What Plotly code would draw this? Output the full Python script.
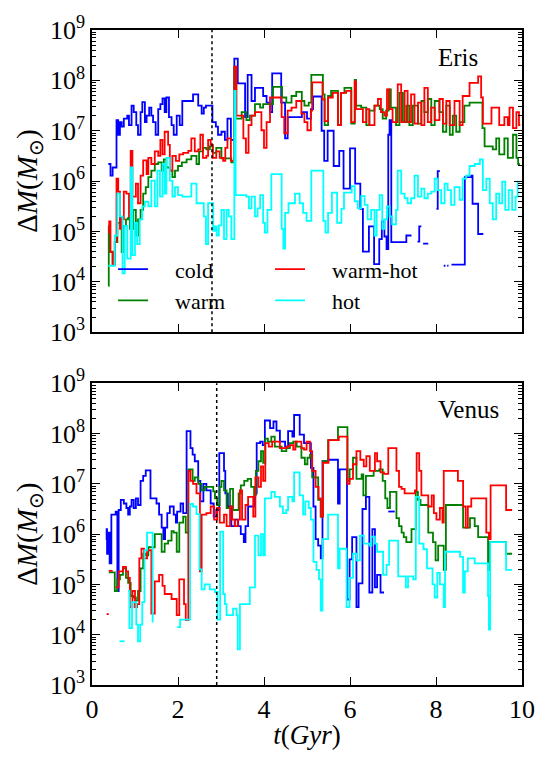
import plotly.graph_objects as go

# ---------------- data (t in Gyr, log10 of mass accreted in Msun; None = gap) -------------
ERIS_COLD_T = [0.38,0.43,0.48,0.57,0.61,0.65,0.69,0.74,0.82,0.86,0.92,0.97,1.03,1.07,1.13,1.17,1.23,1.27,1.33,1.38,
               1.42,1.48,1.54,1.59,1.64,1.69,1.73,1.79,1.85,1.90,1.97,2.04,2.10,2.35,2.47,2.55,2.60,2.65,2.80,2.88,
               2.93,3.01,3.09,3.15,3.23,3.31,3.39,3.56,3.62,3.71,3.79,3.98,4.06,4.14,4.19,4.40,4.49,4.55,4.88,5.00,
               5.09,5.14,5.34,5.40,5.48,5.62,5.75,5.85,6.00,6.12,6.24,6.30,6.44,6.56,6.68,6.74,6.80,6.85,6.89,6.92,
               6.96,7.31,7.43,7.43,7.57,7.61,7.66,7.66,7.70,7.82,7.82,8.01,8.04,8.09,8.09,8.18,8.22,8.22,8.26,8.29,
               8.29,8.36,8.67,8.82,8.85,8.98,9.10]
ERIS_COLD_LOGM = [6.34,6.11,6.27,7.21,6.92,7.17,7.08,7.24,7.30,7.11,7.50,7.37,7.11,6.92,7.37,7.57,7.17,7.30,7.46,7.30,
                  7.17,6.92,7.43,7.53,7.64,7.37,7.66,7.27,7.11,6.92,7.30,7.11,7.59,7.72,7.50,7.34,7.46,7.50,7.17,7.08,
                  6.92,6.98,6.82,7.24,6.82,8.43,7.94,7.27,8.11,7.59,7.85,7.69,7.56,7.37,8.14,7.56,6.85,7.27,7.37,7.24,
                  7.43,7.68,7.00,6.40,7.00,6.30,6.60,5.85,6.65,5.95,5.45,4.60,5.10,4.35,4.85,5.20,4.90,4.65,6.92,7.21,
                  4.79,4.92,4.92,None,4.80,5.10,5.10,None,4.76,4.76,None,5.45,6.20,6.20,None,4.32,4.32,None,4.32,4.32,
                  None,4.34,6.08,6.11,5.55,4.95,4.95]

ERIS_WARM_T = [0.38,0.39,0.41,0.48,0.53,0.59,0.65,0.69,0.72,0.79,0.84,0.88,0.96,1.02,1.07,1.13,1.19,1.25,1.31,1.38,
               1.46,1.54,1.62,1.67,1.73,1.81,1.87,1.93,2.00,2.09,2.20,2.31,2.43,2.49,2.58,2.66,2.74,2.81,2.89,3.01,
               3.24,3.31,3.34,3.48,3.59,3.67,3.79,3.91,3.98,4.21,4.42,4.52,4.64,4.75,4.88,4.94,5.04,5.10,5.37,5.41,
               5.49,5.56,5.72,5.79,5.87,6.03,6.11,6.14,6.26,6.38,6.45,6.57,6.69,6.76,6.84,6.90,6.95,7.07,7.15,7.23,
               7.31,7.38,7.46,7.58,7.66,7.73,7.81,7.89,7.97,8.08,8.16,8.24,8.32,8.39,8.47,8.55,8.66,8.78,9.08,9.13,
               9.32,9.40,9.47,9.59,9.67,9.79,9.87,9.91,9.95]
ERIS_WARM_LOGM = [3.92,5.10,4.60,4.34,4.79,5.17,5.27,4.59,5.11,5.24,5.27,5.05,5.43,4.92,5.24,5.43,5.75,5.88,6.08,6.21,
                  6.34,6.37,6.21,6.43,6.27,6.21,6.08,6.21,6.30,6.37,6.43,6.50,6.34,6.59,6.66,6.63,6.69,6.56,6.66,6.45,
                  6.37,8.27,7.24,7.37,7.21,7.30,7.53,7.46,7.53,7.87,7.66,7.56,7.69,7.77,7.59,7.50,7.56,8.11,7.72,7.11,
                  7.69,7.79,7.11,7.75,7.85,7.14,8.01,7.50,7.46,7.11,7.40,7.50,7.43,7.24,7.40,7.82,7.46,7.11,7.75,7.17,
                  7.50,7.11,7.50,7.14,7.59,7.37,7.63,7.11,7.59,7.37,6.98,7.50,6.92,7.30,6.98,7.17,7.50,7.56,7.05,6.69,
                  6.63,6.85,6.53,6.85,6.46,6.92,6.46,6.34,6.34]

ERIS_WARMHOT_T = [0.38,0.40,0.43,0.48,0.53,0.57,0.61,0.65,0.69,0.74,0.80,0.86,0.90,0.94,1.02,1.07,1.13,1.19,1.27,1.31,
                  1.38,1.46,1.54,1.59,1.64,1.69,1.77,1.81,1.87,1.95,2.03,2.12,2.24,2.31,2.39,2.47,2.52,2.58,2.66,2.70,
                  2.76,2.81,2.89,2.97,3.05,3.10,3.15,3.23,3.31,3.36,3.52,3.58,3.64,3.71,3.79,3.94,4.00,4.06,4.14,4.41,
                  4.47,4.55,4.64,4.75,4.87,4.94,5.01,5.09,5.12,5.36,5.41,5.49,5.60,5.72,5.79,5.91,6.03,6.11,6.14,6.30,
                  6.38,6.45,6.57,6.65,6.72,6.80,6.86,6.92,6.99,7.11,7.19,7.27,7.34,7.42,7.50,7.58,7.66,7.73,7.81,7.89,
                  7.97,8.08,8.16,8.24,8.32,8.43,8.55,8.62,8.78,8.98,9.05,9.09,9.29,9.47,9.59,9.67,9.71,9.79,9.87,9.93,
                  9.96]
ERIS_WARMHOT_LOGM = [4.98,5.20,4.59,4.34,4.79,6.05,5.79,5.05,5.24,5.79,5.75,5.30,6.60,5.69,5.95,5.56,6.11,6.41,6.14,6.46,
                     6.34,6.59,6.50,6.82,6.53,6.98,6.72,6.21,6.50,6.40,6.53,6.56,6.60,6.85,6.59,6.63,6.92,6.46,6.50,6.82,
                     6.72,6.46,6.59,6.46,6.40,6.66,6.85,6.40,8.27,7.30,6.85,6.56,7.11,7.30,7.37,7.01,6.66,7.17,7.66,7.27,
                     6.95,7.40,7.46,7.59,7.34,7.17,7.01,7.40,7.96,7.62,7.19,7.66,7.75,7.11,7.75,7.79,7.17,7.98,7.43,7.17,
                     7.43,7.11,7.50,7.63,7.37,7.30,7.82,7.43,7.17,7.92,7.17,7.79,7.17,7.72,7.14,7.56,7.11,7.85,7.17,7.46,
                     7.21,7.63,7.14,7.59,7.11,7.59,7.11,7.69,7.95,8.08,7.66,7.14,7.46,7.11,7.27,7.11,7.46,7.05,7.37,7.11,
                     7.11]

ERIS_HOT_T = [0.38,0.53,0.59,0.65,0.71,0.76,0.82,0.90,0.94,1.00,1.05,1.11,1.17,1.23,1.31,1.38,1.46,1.52,1.58,1.64,
              1.69,1.73,1.81,1.87,1.93,2.00,2.10,2.31,2.43,2.60,2.65,2.70,2.82,2.86,2.90,2.95,3.01,3.07,3.13,3.18,
              3.24,3.31,3.34,3.59,3.65,3.71,3.79,3.85,3.91,3.98,4.02,4.08,4.17,4.41,4.45,4.49,4.57,4.72,4.83,4.91,
              4.99,5.10,5.38,5.43,5.49,5.58,5.70,5.80,5.86,6.04,6.11,6.18,6.26,6.34,6.41,6.49,6.57,6.62,6.69,6.75,
              6.80,6.86,6.92,6.98,7.07,7.11,7.19,7.27,7.34,7.42,7.50,7.58,7.66,7.73,7.81,7.89,7.97,8.04,8.12,8.20,
              8.27,8.35,8.43,8.55,8.62,8.70,8.78,8.90,9.02,9.09,9.17,9.25,9.32,9.40,9.47,9.54,9.61,9.69,9.77,9.85,
              9.90,9.95]
ERIS_HOT_LOGM = [4.32,4.92,5.75,5.30,4.17,5.11,4.46,6.27,4.53,5.17,4.75,5.24,5.50,5.59,5.50,6.01,5.50,6.21,5.69,6.34,
                 5.75,6.46,6.01,5.69,5.88,5.72,5.69,5.95,5.56,5.30,4.75,5.56,5.01,5.10,4.92,5.12,5.43,4.85,5.43,5.30,
                 4.85,7.79,5.72,5.69,5.46,5.69,5.30,5.46,5.72,5.17,4.98,5.43,6.14,5.05,4.66,5.37,5.56,5.75,5.56,5.37,
                 5.21,6.21,5.21,4.98,5.37,5.77,5.17,5.45,5.77,5.90,5.60,5.46,5.70,5.53,5.24,5.43,4.92,5.43,5.72,5.05,
                 5.24,5.50,5.30,5.14,5.43,6.21,5.75,5.66,5.56,5.66,6.11,5.69,5.85,5.66,5.75,5.79,6.05,5.82,5.56,5.95,
                 5.82,5.53,5.88,5.63,6.05,6.11,6.30,6.34,6.43,5.82,6.05,5.56,5.24,5.75,5.56,5.99,5.43,5.82,5.43,5.69,
                 5.99,5.99]

VENUS_COLD_T = [0.32,0.34,0.35,0.38,0.41,0.45,0.55,0.59,0.62,0.67,0.74,0.80,0.84,0.88,0.92,0.97,1.02,1.07,1.13,1.19,
                1.25,1.36,1.50,1.56,1.62,1.66,1.70,1.75,1.81,1.90,1.95,1.98,2.06,2.12,2.20,2.29,2.34,2.39,2.47,2.52,
                2.59,2.66,2.76,2.83,2.89,2.96,3.07,3.10,3.16,3.24,3.32,3.40,3.46,3.53,3.57,3.63,3.79,3.83,3.91,3.97,
                4.02,4.14,4.22,4.29,4.37,4.49,4.56,4.66,4.70,4.83,4.93,5.09,5.15,5.20,5.26,5.32,5.36,5.49,5.72,5.76,
                5.93,5.99,6.05,6.15,6.20,6.29,6.37,6.45,6.52,6.58,6.63,6.71,6.79,6.79,6.89,7.04]
VENUS_COLD_LOGM = [5.90,6.10,5.61,6.03,5.42,6.39,6.45,4.87,6.48,6.68,6.61,6.52,6.39,6.55,6.68,6.52,6.71,6.58,7.06,7.16,
                   7.27,6.71,6.61,6.39,6.13,5.90,6.13,6.42,6.55,6.39,6.23,6.45,6.61,6.42,8.05,7.71,7.58,7.45,7.06,6.65,
                   7.00,6.87,6.61,6.35,6.48,7.61,7.26,6.81,6.55,6.16,6.29,6.16,6.00,5.84,6.16,6.55,6.81,7.81,7.84,7.77,
                   8.26,8.11,8.24,8.06,7.84,7.74,8.05,7.94,8.37,7.98,7.81,7.32,6.55,5.90,5.77,5.52,7.45,7.48,6.61,7.29,
                   4.70,5.50,5.94,4.55,5.02,6.50,6.74,4.84,6.10,4.94,5.19,4.84,4.84,None,6.45,6.45]

VENUS_WARM_T = [0.39,0.53,0.59,0.65,0.72,0.79,0.84,0.90,0.96,1.02,1.07,1.13,1.19,1.25,1.31,1.46,1.62,1.69,1.77,1.85,
                1.90,1.97,2.03,2.12,2.18,2.24,2.34,2.39,2.47,2.55,2.62,2.82,2.86,2.91,2.97,3.01,3.07,3.13,3.21,3.28,
                3.41,3.46,3.54,3.62,3.70,3.77,3.81,3.87,3.93,3.98,4.03,4.09,4.17,4.25,4.41,4.52,4.60,4.68,4.76,4.87,
                4.95,5.01,5.07,5.12,5.26,5.32,5.37,5.49,5.72,5.94,5.99,6.07,6.15,6.27,6.31,6.37,6.55,6.68,6.76,6.82,
                6.87,6.93,7.08,7.14,7.20,7.25,7.31,7.43,7.53,7.58,7.64,7.82,7.93,7.99,8.05,8.18,8.23,8.63,8.79,8.90,
                8.98,9.21,9.25,9.63,9.67,9.77]
VENUS_WARM_LOGM = [5.24,4.87,5.10,5.19,5.32,5.13,5.03,4.77,4.74,4.68,4.87,5.32,5.61,5.58,5.74,6.00,5.65,5.81,5.87,6.06,
                   6.03,5.65,6.23,6.35,6.03,7.29,7.06,7.13,7.00,6.87,6.94,6.85,6.71,6.58,6.94,7.06,6.87,6.52,6.90,6.48,
                   6.81,6.97,7.06,7.10,6.94,6.77,7.26,7.45,7.65,7.42,7.90,7.84,7.94,7.74,7.65,7.71,7.81,7.84,7.74,7.52,
                   7.39,7.52,7.58,7.13,6.68,6.35,7.45,7.87,8.13,7.06,7.29,7.52,7.10,7.19,6.77,7.16,7.26,7.29,7.06,6.71,
                   6.52,6.84,6.32,6.16,6.03,5.94,5.84,6.10,6.84,6.68,6.58,6.03,5.84,5.48,5.77,5.29,6.58,6.13,6.32,6.16,
                   5.94,5.29,5.84,5.61,5.61,5.61]

VENUS_WARMHOT_T = [0.34,0.39,0.39,0.39,0.48,0.48,0.55,0.62,0.72,0.79,0.84,0.88,0.94,1.00,1.05,1.10,1.15,1.21,1.28,1.38,
                   1.46,1.56,1.64,1.69,1.85,1.97,2.03,2.14,2.18,2.24,2.29,2.35,2.43,2.51,2.55,2.66,2.76,2.84,2.91,2.97,
                   3.07,3.13,3.21,3.26,3.32,3.39,3.44,3.49,3.57,3.63,3.75,3.80,3.87,3.93,3.98,4.03,4.11,4.19,4.37,4.52,
                   4.60,4.68,4.73,4.87,4.93,4.99,5.07,5.12,5.20,5.27,5.32,5.37,5.50,5.74,5.94,5.99,6.07,6.15,6.24,6.32,
                   6.38,6.46,6.58,6.63,6.71,6.79,6.89,7.08,7.14,7.20,7.27,7.51,7.55,7.61,7.66,7.82,7.90,7.95,8.01,8.09,
                   8.15,8.18,8.51,8.63,8.69,8.74,8.82,9.17,9.23,9.27,9.63,9.77]
VENUS_WARMHOT_LOGM = [4.41,4.41,None,5.27,5.27,None,4.94,5.26,5.35,5.26,5.13,4.55,4.87,4.55,4.61,5.52,5.71,5.52,5.68,4.42,
                      5.06,5.19,4.97,4.81,4.71,4.39,5.10,4.61,4.29,7.26,7.06,7.00,6.81,5.26,6.39,6.42,6.55,6.29,6.52,6.23,
                      6.39,6.16,6.55,6.29,6.16,6.29,6.87,6.29,6.58,6.74,6.35,7.13,6.94,7.35,7.06,7.81,7.74,7.84,7.71,7.74,
                      7.77,7.68,7.84,7.71,7.68,7.84,7.65,7.26,6.94,6.71,6.35,7.42,7.87,7.94,7.00,7.10,7.39,7.65,7.48,7.35,
                      7.55,7.26,7.61,7.45,7.23,7.20,7.71,7.26,6.94,6.90,6.81,6.87,7.61,7.26,6.77,6.55,6.77,6.42,6.29,6.52,
                      6.23,7.26,7.06,6.55,6.13,6.55,6.71,6.03,5.90,6.97,6.48,6.48]

VENUS_HOT_T = [0.64,0.76,0.76,0.84,0.87,0.93,1.03,1.07,1.12,1.17,1.22,1.28,1.41,1.43,1.43,1.98,2.05,2.28,2.35,2.43,
               2.50,2.55,2.62,2.74,2.86,2.92,2.98,3.05,3.09,3.13,3.28,3.36,3.39,3.44,3.67,3.79,3.87,3.93,3.98,4.02,
               4.17,4.25,4.37,4.44,4.52,4.56,4.66,4.70,4.83,4.91,4.96,5.04,5.09,5.15,5.22,5.28,5.32,5.36,5.49,5.72,
               5.76,5.92,5.99,6.07,6.15,6.23,6.32,6.46,6.50,6.58,6.63,6.77,6.85,6.91,7.12,7.30,7.35,7.47,7.53,7.61,
               7.71,7.79,7.92,7.97,8.03,8.09,8.18,8.21,8.56,8.63,8.67,8.74,8.90,9.21,9.23,9.26,9.63,9.77]
VENUS_HOT_LOGM = [3.87,3.87,None,4.87,4.13,4.65,4.20,3.87,4.20,4.65,5.68,6.03,4.26,4.26,None,4.15,4.30,6.60,6.55,6.40,
                  5.30,4.90,5.00,4.90,4.85,4.30,6.05,4.81,4.61,4.39,4.52,4.39,3.71,4.61,4.94,5.97,5.58,6.00,5.58,6.71,
                  6.84,6.74,6.55,6.42,6.48,6.74,6.65,7.23,6.77,6.39,6.65,6.52,6.29,5.45,5.29,5.10,4.48,5.90,6.39,5.32,
                  5.71,4.55,5.13,5.61,5.48,5.97,5.81,5.77,5.95,5.81,5.65,5.19,5.39,5.87,5.16,4.94,5.16,5.10,6.74,5.81,
                  5.70,5.32,5.00,4.74,5.23,5.00,4.55,5.65,5.55,4.84,5.26,5.52,5.42,4.77,4.10,5.84,5.29,5.29]

SERIES = ["cold", "warm", "warm-hot", "hot"]
COLORS = {"cold": "#0000ff", "warm": "#008000", "warm-hot": "#ff0000", "hot": "#00ffff"}
ERIS = {"cold": (ERIS_COLD_T, ERIS_COLD_LOGM), "warm": (ERIS_WARM_T, ERIS_WARM_LOGM),
        "warm-hot": (ERIS_WARMHOT_T, ERIS_WARMHOT_LOGM), "hot": (ERIS_HOT_T, ERIS_HOT_LOGM)}
VENUS = {"cold": (VENUS_COLD_T, VENUS_COLD_LOGM), "warm": (VENUS_WARM_T, VENUS_WARM_LOGM),
         "warm-hot": (VENUS_WARMHOT_T, VENUS_WARMHOT_LOGM), "hot": (VENUS_HOT_T, VENUS_HOT_LOGM)}
ERIS_MARK_T = 2.79
VENUS_MARK_T = 2.90
Y_TICK_EXP = [3, 4, 5, 6, 7, 8, 9]
X_TICKS = [0, 2, 4, 6, 8, 10]

FONT = "Liberation Serif, Times New Roman, serif"
PAD = "\u00a0" * 4
LEGEND_SLOT = {"cold": ("legend", 0.049, 0.6345), "warm": ("legend2", 0.049, 0.587),
               "warm-hot": ("legend3", 0.414, 0.6345), "hot": ("legend4", 0.414, 0.587)}

fig = go.Figure()
for panel, (xa, ya) in ((ERIS, ("x", "y")), (VENUS, ("x2", "y2"))):
    for s in SERIES:
        t, lm = panel[s]
        yv = [None if v is None else 10 ** v for v in lm]
        top = xa == "x"
        fig.add_trace(go.Scatter(
            x=t, y=yv, mode="lines", line=dict(color=COLORS[s], width=1.8, shape="hv"),
            name=PAD + s, showlegend=top, legend=LEGEND_SLOT[s][0],
            connectgaps=False, xaxis=xa, yaxis=ya, hoverinfo="skip"))

minor_vals = [m * 10 ** e for e in range(3, 9) for m in range(2, 10)]
yaxis_common = dict(
    type="log", range=[3, 9], tickvals=[10 ** e for e in Y_TICK_EXP],
    ticktext=["10<sup>%d</sup>" % e for e in Y_TICK_EXP],
    ticks="inside", ticklen=8, tickwidth=1, tickcolor="black",
    minor=dict(tickvals=minor_vals, ticks="inside", ticklen=4, tickwidth=1, tickcolor="black", showgrid=False),
    showline=True, linecolor="black", linewidth=1.5, mirror="ticks", showgrid=False, zeroline=False,
    tickfont=dict(family=FONT, size=26, color="black"),
    title=dict(text="Δ<i>M</i>(<i>M</i><sub>⊙</sub>)", font=dict(family=FONT, size=29, color="black"), standoff=4),
)
xaxis_common = dict(
    range=[0, 10], tickvals=X_TICKS, ticks="inside", ticklen=8, tickwidth=1, tickcolor="black",
    showline=True, linecolor="black", linewidth=1.5, mirror="ticks", showgrid=False, zeroline=False,
    tickfont=dict(family=FONT, size=26, color="black"),
)

legend_common = dict(font=dict(family=FONT, size=22, color="black"), bgcolor="rgba(0,0,0,0)",
                     xanchor="left", yanchor="middle", itemwidth=30, tracegroupgap=0)
legends = {}
for s in SERIES:
    key, lx, ly = LEGEND_SLOT[s]
    legends[key] = dict(legend_common, x=lx, y=ly)

fig.update_layout(
    width=551, height=757, paper_bgcolor="white", plot_bgcolor="white",
    margin=dict(l=92, r=29, t=22, b=62),
    xaxis=dict(xaxis_common, domain=[0, 1], anchor="y", showticklabels=False),
    yaxis=dict(yaxis_common, domain=[0.5386, 1], anchor="x"),
    xaxis2=dict(xaxis_common, domain=[0, 1], anchor="y2",
                title=dict(text="<i>t</i>(<i>Gyr</i>)", font=dict(family=FONT, size=27, color="black"), standoff=2)),
    yaxis2=dict(yaxis_common, domain=[0, 0.4606], anchor="x2"),
    shapes=[
        dict(type="line", xref="x", yref="y domain", x0=ERIS_MARK_T, x1=ERIS_MARK_T, y0=0, y1=1,
             line=dict(color="black", width=1.5, dash="dot")),
        dict(type="line", xref="x2", yref="y2 domain", x0=VENUS_MARK_T, x1=VENUS_MARK_T, y0=0, y1=1,
             line=dict(color="black", width=1.5, dash="dot")),
    ],
    annotations=[
        dict(text="Eris", xref="x domain", yref="y domain", x=0.80, y=0.91, xanchor="left", yanchor="middle",
             showarrow=False, font=dict(family=FONT, size=25, color="black")),
        dict(text="Venus", xref="x2 domain", yref="y2 domain", x=0.80, y=0.913, xanchor="left", yanchor="middle",
             showarrow=False, font=dict(family=FONT, size=25, color="black")),
    ],
    **legends,
)

fig.write_html("out.html")
